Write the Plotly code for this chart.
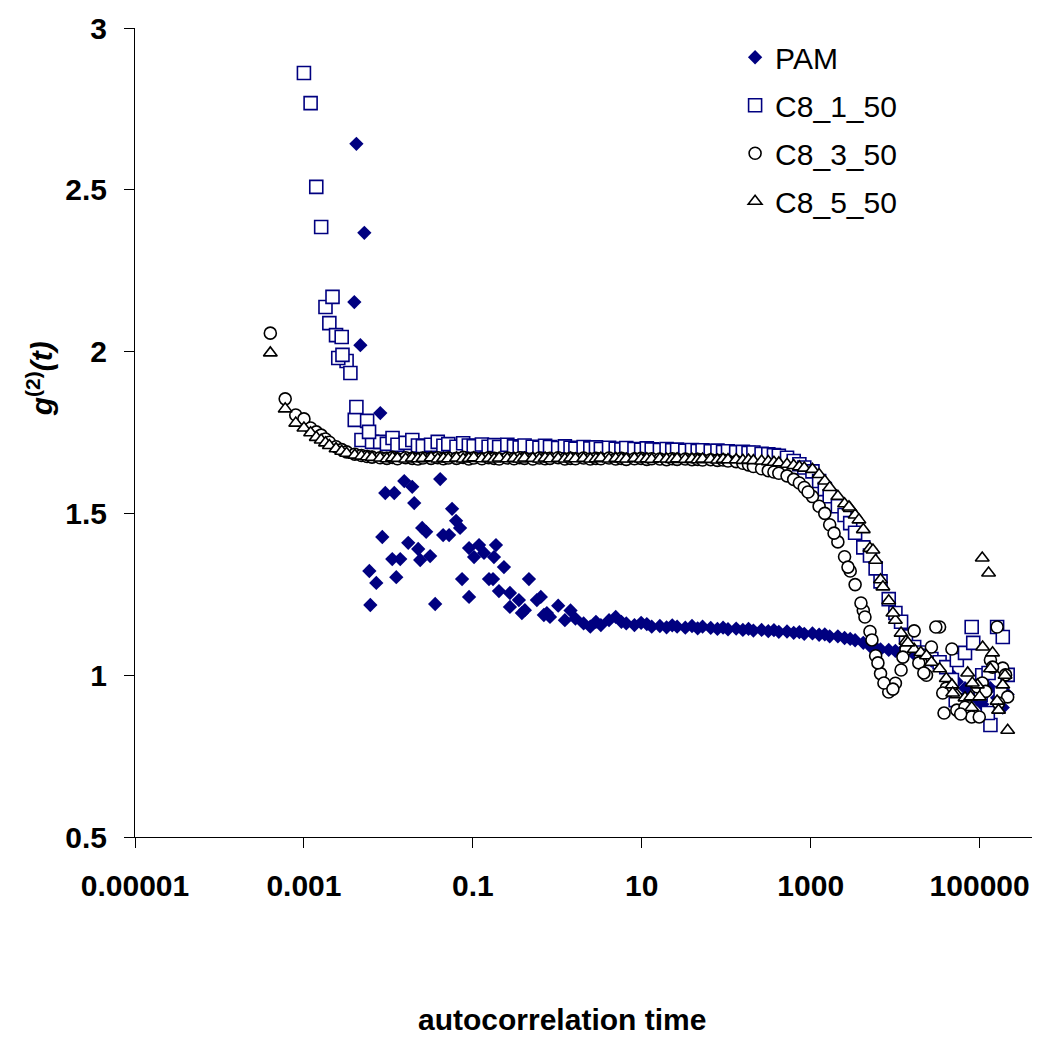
import plotly.graph_objects as go

# ---------------- data ----------------
# shared correlator lag-time grid (autocorrelation time)
TAU = [0.0004, 0.0006, 0.0008, 0.001, 0.0012, 0.0014, 0.0016, 0.0018,
       0.002, 0.0024, 0.0028, 0.0032, 0.004, 0.0048, 0.0056, 0.0064,
       0.008, 0.0096, 0.0112, 0.0128, 0.016, 0.0192, 0.0224, 0.0256,
       0.032, 0.0384, 0.0448, 0.0512, 0.064, 0.0768, 0.0896, 0.1024,
       0.128, 0.1536, 0.1792, 0.2048, 0.256, 0.3072, 0.3584, 0.4096,
       0.512, 0.6144, 0.7168, 0.8192, 1.024, 1.229, 1.434, 1.638,
       2.048, 2.458, 2.867, 3.277, 4.096, 4.915, 5.734, 6.554,
       8.192, 9.830, 11.47, 13.11, 16.38, 19.66, 22.94, 26.21,
       32.77, 39.32, 45.88, 52.43, 65.54, 78.64, 91.75, 104.9,
       131.1, 157.3, 183.5, 209.7, 262.1, 314.6, 367.0, 419.4,
       524.3, 629.1, 734.0, 838.9, 1049, 1258, 1468, 1678,
       2097, 2517, 2936, 3355, 4194, 5033, 5872, 6711,
       8389, 10066, 11744, 13422, 16777, 20133, 23488, 26844,
       33554, 40265, 46976, 53687, 67109, 80531, 93952, 107374,
       134218, 161061, 187905, 214748]

# PAM on grid from TAU index 43 onward
PAM_G = [1.180,
         1.215, 1.170, 1.200, 1.175, 1.160, 1.150, 1.165, 1.155,
         1.170, 1.180, 1.165, 1.160, 1.155, 1.162, 1.158, 1.150,
         1.152, 1.148, 1.154, 1.150, 1.147, 1.152, 1.145, 1.150,
         1.146, 1.143, 1.147, 1.142, 1.144, 1.140, 1.143, 1.138,
         1.140, 1.136, 1.139, 1.134, 1.135, 1.131, 1.133, 1.128,
         1.129, 1.125, 1.126, 1.120, 1.120, 1.115, 1.112, 1.108,
         1.100, 1.090, 1.085, 1.080, 1.078, 1.075, 1.073, 1.070,
         1.065, 1.060, 1.050, 1.045, 1.035, 1.020, 1.000, 0.980,
         0.960, 0.940, 0.925, 0.910, 0.960, 0.930, 0.900, 0.940]
PAM_EX_T = [0.00395, 0.00418, 0.00466, 0.00519, 0.00595, 0.00611, 0.00719, 0.00802,
            0.00847, 0.00919, 0.01111, 0.01174, 0.01240, 0.01381, 0.01541, 0.01718,
            0.01915, 0.02022, 0.02254, 0.02380, 0.02512, 0.02800, 0.03122, 0.03580,
            0.04105, 0.04448, 0.05235, 0.05675, 0.06331, 0.07058, 0.07452, 0.0902,
            0.0902, 0.1034, 0.1184, 0.1356, 0.1553, 0.1733, 0.1778, 0.1878,
            0.2037, 0.2333, 0.2748, 0.2748, 0.3508, 0.3807, 0.413, 0.4613,
            0.5728, 0.638, 0.693, 0.752]
PAM_EX_G = [2.153, 2.642, 2.020, 2.367, 1.322, 1.217, 1.285, 1.810,
            1.427, 1.563, 1.359, 1.563, 1.303, 1.359, 1.600, 1.409,
            1.582, 1.532, 1.390, 1.356, 1.455, 1.443, 1.368, 1.220,
            1.606, 1.433, 1.433, 1.514, 1.477, 1.455, 1.297, 1.393,
            1.242, 1.365, 1.402, 1.378, 1.297, 1.297, 1.365, 1.402,
            1.260, 1.334, 1.254, 1.211, 1.232, 1.192, 1.201, 1.297,
            1.232, 1.242, 1.186, 1.192]

# C8_1_50 on grid from TAU index 3 onward
C8_1_G = [2.861, 2.768, 2.509, 2.385, 2.138,
          2.088, 2.051, 2.045, 1.971, 1.789, 1.727, 1.786, 1.721,
          1.721, 1.715, 1.733, 1.712, 1.718, 1.727, 1.710, 1.708,
          1.712, 1.721, 1.709, 1.714, 1.706, 1.717, 1.710, 1.708,
          1.713, 1.706, 1.711, 1.705, 1.712, 1.707, 1.704, 1.710,
          1.706, 1.703, 1.709, 1.705, 1.702, 1.707, 1.703, 1.700,
          1.705, 1.701, 1.704, 1.699, 1.703, 1.700, 1.698, 1.702,
          1.699, 1.697, 1.701, 1.698, 1.696, 1.699, 1.695, 1.697,
          1.694, 1.696, 1.693, 1.695, 1.692, 1.694, 1.690, 1.692,
          1.689, 1.690, 1.687, 1.688, 1.684, 1.683, 1.680, 1.678,
          1.672, 1.662, 1.652, 1.642, 1.630, 1.600, 1.575, 1.553,
          1.522, 1.495, 1.470, 1.440, 1.395, 1.370, 1.330, 1.290,
          1.235, 1.192, 1.165, 1.120, 1.087, 1.070, 1.060, 1.050,
          1.040, 1.025, 0.985, 1.047, 1.069, 1.149, 0.964, 1.000,
          0.846, 1.149, 1.118, 1.001]
C8_1_EX_T = [0.00218, 0.00255, 0.00286, 0.00355, 0.00418, 0.0059,
             52100, 84000, 102800, 125000, 127600, 177000]
C8_1_EX_G = [2.169, 1.980, 1.990, 1.934, 1.829, 1.752,
             0.923, 1.100, 0.940, 0.883, 1.007, 0.945]

# C8_3_50 on full grid
C8_3_G = [2.057, 1.854, 1.804, 1.792, 1.764, 1.752, 1.742, 1.730,
          1.720, 1.706, 1.697, 1.690, 1.683, 1.679, 1.676, 1.674,
          1.672, 1.670, 1.673, 1.669, 1.672, 1.670, 1.668, 1.671,
          1.670, 1.672, 1.669, 1.671, 1.670, 1.673, 1.668, 1.671,
          1.669, 1.672, 1.670, 1.668, 1.671, 1.669, 1.672, 1.670,
          1.668, 1.671, 1.669, 1.670, 1.672, 1.668, 1.670, 1.669,
          1.671, 1.668, 1.670, 1.669, 1.671, 1.668, 1.670, 1.667,
          1.669, 1.670, 1.667, 1.669, 1.668, 1.666, 1.669, 1.667,
          1.668, 1.666, 1.667, 1.665, 1.666, 1.664, 1.665, 1.662,
          1.660, 1.655, 1.650, 1.645, 1.638, 1.632, 1.628, 1.624,
          1.616, 1.605, 1.594, 1.580, 1.552, 1.522, 1.500, 1.465,
          1.412, 1.366, 1.322, 1.280, 1.200, 1.135, 1.060, 1.005,
          0.948, 0.975, 1.016, 1.080, 1.137, 1.040, 1.000, 1.087,
          1.149, 0.960, 1.081, 0.892, 0.901, 0.871, 0.964, 0.976,
          1.047, 1.149, 1.022, 0.933]
C8_3_EX_T = [931, 1890, 2763, 3936, 4388, 5310, 6250, 7360, 9400, 12340,
             19050, 21850, 30300, 36600, 37900, 59700, 99000, 118000,
             142300, 167500, 202800]
C8_3_EX_G = [1.566, 1.439, 1.334, 1.223, 1.180, 1.109, 1.038, 0.976, 0.957, 1.056,
             1.038, 1.007, 1.149, 0.945, 0.883, 0.880, 0.871, 0.950,
             1.025, 0.914, 1.001]

# C8_5_50 on full grid
C8_5_G = [1.996, 1.823, 1.779, 1.764, 1.749, 1.735, 1.727, 1.718,
          1.710, 1.700, 1.692, 1.686, 1.680, 1.677, 1.675, 1.673,
          1.671, 1.669, 1.672, 1.670, 1.668, 1.671, 1.669, 1.670,
          1.672, 1.668, 1.670, 1.669, 1.671, 1.668, 1.670, 1.672,
          1.669, 1.670, 1.668, 1.671, 1.669, 1.670, 1.668, 1.671,
          1.670, 1.668, 1.671, 1.669, 1.670, 1.668, 1.671, 1.669,
          1.670, 1.668, 1.669, 1.671, 1.668, 1.670, 1.669, 1.668,
          1.670, 1.668, 1.669, 1.667, 1.669, 1.668, 1.667, 1.669,
          1.667, 1.668, 1.666, 1.668, 1.667, 1.665, 1.667, 1.666,
          1.666, 1.664, 1.665, 1.663, 1.662, 1.660, 1.658, 1.656,
          1.652, 1.648, 1.644, 1.640, 1.636, 1.620, 1.600, 1.580,
          1.553, 1.530, 1.515, 1.495, 1.450, 1.392, 1.355, 1.295,
          1.230, 1.170, 1.130, 1.105, 1.080, 1.070, 1.060, 1.040,
          1.020, 0.990, 0.970, 0.940, 0.930, 0.900, 0.970, 1.362,
          1.020, 0.920, 0.970, 0.830]
C8_5_EX_T = [2840, 3724, 5460, 7160, 9400, 14130,
             48000, 72200, 78300, 82000, 99600, 108500, 127600, 142300,
             167500, 200000]
C8_5_EX_G = [1.520, 1.480, 1.387, 1.273, 1.192, 1.100,
             0.945, 1.007, 0.933, 0.976, 0.933, 1.087, 1.316, 1.069,
             0.892, 1.000]

X_TICKS = [0.00001, 0.001, 0.1, 10, 1000, 100000]
X_TICK_TEXT = ["0.00001", "0.001", "0.1", "10", "1000", "100000"]
Y_TICKS = [0.5, 1, 1.5, 2, 2.5, 3]
Y_TICK_TEXT = ["0.5", "1", "1.5", "2", "2.5", "3"]

# ---------------- figure ----------------
FONT = "Liberation Sans, Arial, sans-serif"
NAVY = "#000080"

fig = go.Figure()

fig.add_trace(go.Scatter(
    x=PAM_EX_T + TAU[43:], y=PAM_EX_G + PAM_G, mode="markers", name="PAM",
    legendgroup="a",
    marker=dict(symbol="diamond", size=11, color=NAVY, line=dict(width=0))))
fig.add_trace(go.Scatter(
    x=TAU[3:] + C8_1_EX_T, y=C8_1_G + C8_1_EX_G, mode="markers", name="C8_1_50",
    legendgroup="b",
    marker=dict(symbol="square", size=13, color="white", line=dict(color=NAVY, width=1.6))))
fig.add_trace(go.Scatter(
    x=TAU + C8_3_EX_T, y=C8_3_G + C8_3_EX_G, mode="markers", name="C8_3_50",
    legendgroup="c",
    marker=dict(symbol="circle", size=12, color="white", line=dict(color="black", width=1.6))))
fig.add_trace(go.Scatter(
    x=TAU + C8_5_EX_T, y=C8_5_G + C8_5_EX_G, mode="markers", name="C8_5_50",
    legendgroup="d",
    marker=dict(symbol="triangle-up", size=12, color="white", line=dict(color="black", width=1.6))))

axis_common = dict(
    showline=True, linecolor="black", linewidth=1, mirror=False,
    ticks="outside", ticklen=10, tickwidth=1, tickcolor="black",
    showgrid=False, zeroline=False, automargin=False,
    tickfont=dict(size=30, family=FONT, color="black", weight="bold"),
)

fig.update_xaxes(type="log", range=[-5, 5.62], tickmode="array",
                 tickvals=X_TICKS, ticktext=X_TICK_TEXT, ticklabelstandoff=12,
                 **axis_common)
fig.update_yaxes(range=[0.5, 3], tickmode="array", tickvals=Y_TICKS,
                 ticktext=Y_TICK_TEXT, ticklabelstandoff=11, **axis_common)

fig.update_layout(
    width=1062, height=1037,
    margin=dict(l=127, r=38, t=20, b=208),
    plot_bgcolor="white", paper_bgcolor="white",
    font=dict(family=FONT, color="black"),
    legend=dict(x=0.669, y=0.996, xanchor="left", yanchor="top",
                font=dict(size=30, family=FONT, color="black"),
                bgcolor="rgba(0,0,0,0)", tracegroupgap=6),
    annotations=[
        dict(text="<b>autocorrelation time</b>", xref="paper", yref="paper",
             x=0.476, y=-0.226, xanchor="center", yanchor="middle",
             showarrow=False, font=dict(size=30, family=FONT, color="black")),
        dict(text="<b><i>g</i><sup>(2)</sup><i>(t)</i></b>", xref="paper", yref="paper",
             x=-0.106, y=0.567, xanchor="center", yanchor="middle", textangle=-90,
             showarrow=False, font=dict(size=30, family=FONT, color="black")),
    ],
)

fig.write_html("out.html")
